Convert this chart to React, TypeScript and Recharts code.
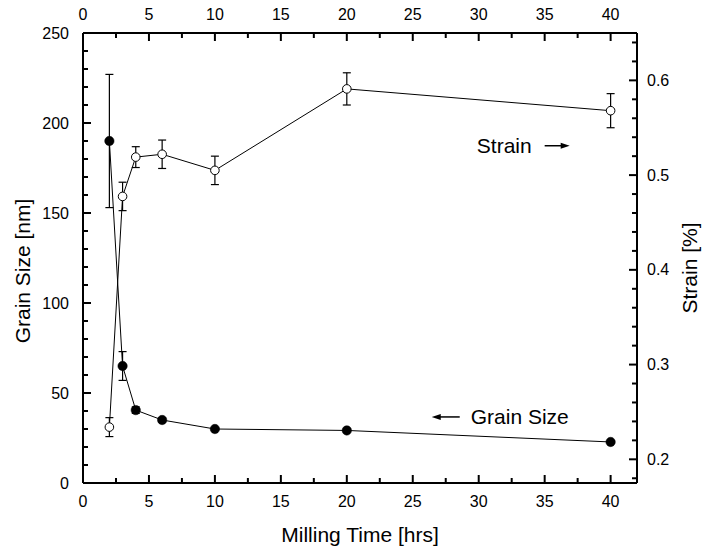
import { ComposedChart, Line, XAxis, YAxis, ErrorBar, ReferenceDot } from "recharts"

// milling time [hrs]
const time = [2, 3, 4, 6, 10, 20, 40]
// grain size [nm] (filled dots, left axis)
const grainSize = [190, 65, 40.5, 35, 30, 29.2, 22.8]
const grainErr = [37, 8, 1.8, 1.2, 0.5, 0.5, 0.5]
// strain [%] (open dots, right axis)
const strain = [0.234, 0.4775, 0.519, 0.522, 0.505, 0.591, 0.568]
const strainErr = [0.01, 0.015, 0.011, 0.015, 0.015, 0.017, 0.018]

const timeTicks = [0, 2.5, 5, 7.5, 10, 12.5, 15, 17.5, 20, 22.5, 25, 27.5, 30, 32.5, 35, 37.5, 40]
const grainTicks = [0, 10, 20, 30, 40, 50, 60, 70, 80, 90, 100, 110, 120, 130, 140, 150, 160, 170, 180, 190, 200, 210, 220, 230, 240, 250]
const strainTicks = [0.18, 0.2, 0.22, 0.24, 0.26, 0.28, 0.3, 0.32, 0.34, 0.36, 0.38, 0.4, 0.42, 0.44, 0.46, 0.48, 0.5, 0.52, 0.54, 0.56, 0.58, 0.6, 0.62, 0.64]

// annotation anchors (data coords)
const strainNote = { x: 35, y: 0.531 }
const grainNote = { x: 28.56, y: 36.7 }

const data = time.map((t, i) => ({
  time: t,
  grain: grainSize[i],
  grainErr: grainErr[i],
  strain: strain[i],
  strainErr: strainErr[i],
}))

const FONT = "'Liberation Sans', Arial, sans-serif"
const MAJOR = 8
const MINOR = 5
const TICK_W = 2

const isTimeMajor = (v: number) => v % 5 === 0
const isGrainMajor = (v: number) => v % 50 === 0
const isStrainMajor = (v: number) => Math.abs(v * 10 - Math.round(v * 10)) < 1e-6

const BottomTick = ({ x, y, payload }: any) => {
  const major = isTimeMajor(payload.value)
  return (
    <g>
      <path d={`M${x},${y}V${y - (major ? MAJOR : MINOR)}`} stroke="#000" strokeWidth={TICK_W} fill="none" />
      {major && (
        <text x={x} y={y + 24} textAnchor="middle" fontSize={16} fontFamily={FONT} fill="#000">
          {payload.value}
        </text>
      )}
    </g>
  )
}

const TopTick = ({ x, y, payload }: any) => {
  const major = isTimeMajor(payload.value)
  return (
    <g>
      <path d={`M${x},${y}V${y + (major ? MAJOR : MINOR)}`} stroke="#000" strokeWidth={TICK_W} fill="none" />
      {major && (
        <text x={x} y={y - 13.5} textAnchor="middle" fontSize={16} fontFamily={FONT} fill="#000">
          {payload.value}
        </text>
      )}
    </g>
  )
}

const LeftTick = ({ x, y, payload }: any) => {
  const major = isGrainMajor(payload.value)
  return (
    <g>
      <path d={`M${x},${y}H${x + (major ? MAJOR : MINOR)}`} stroke="#000" strokeWidth={TICK_W} fill="none" />
      {major && (
        <text x={x - 14} y={y + 5.5} textAnchor="end" fontSize={16} fontFamily={FONT} fill="#000">
          {payload.value}
        </text>
      )}
    </g>
  )
}

const RightTick = ({ x, y, payload }: any) => {
  const major = isStrainMajor(payload.value)
  return (
    <g>
      <path d={`M${x},${y}H${x - (major ? MAJOR : MINOR)}`} stroke="#000" strokeWidth={TICK_W} fill="none" />
      {major && (
        <text x={x + 10} y={y + 5.5} textAnchor="start" fontSize={16} fontFamily={FONT} fill="#000">
          {payload.value.toFixed(1)}
        </text>
      )}
    </g>
  )
}

const StrainNote = ({ cx, cy }: any) => (
  <g>
    <text x={cx - 13} y={cy + 7.5} textAnchor="end" fontSize={21} fontFamily={FONT} fill="#000">
      Strain
    </text>
    <line x1={cx} x2={cx + 17} y1={cy} y2={cy} stroke="#000" strokeWidth={1.5} />
    <polygon points={`${cx + 25},${cy} ${cx + 16},${cy - 3} ${cx + 16},${cy + 3}`} fill="#000" />
  </g>
)

const GrainNote = ({ cx, cy }: any) => (
  <g>
    <line x1={cx} x2={cx - 20} y1={cy} y2={cy} stroke="#000" strokeWidth={1.5} />
    <polygon points={`${cx - 28},${cy} ${cx - 19},${cy - 3} ${cx - 19},${cy + 3}`} fill="#000" />
    <text x={cx + 11} y={cy + 7.5} textAnchor="start" fontSize={21} fontFamily={FONT} fill="#000">
      Grain Size
    </text>
  </g>
)

const BottomTitle = ({ viewBox }: any) => {
  const vb = viewBox || { x: 83, y: 483, width: 554, height: 69 }
  return (
    <text x={vb.x + vb.width / 2} y={vb.y + 59} textAnchor="middle" fontSize={21} fontFamily={FONT} fill="#000">
      Milling Time [hrs]
    </text>
  )
}

const LeftTitle = ({ viewBox }: any) => {
  const vb = viewBox || { x: 0, y: 33, width: 83, height: 450 }
  const tx = vb.x + 30
  const ty = vb.y + vb.height / 2 + 13
  return (
    <text x={tx} y={ty} transform={`rotate(-90, ${tx}, ${ty})`} textAnchor="middle" fontSize={21} fontFamily={FONT} fill="#000">
      Grain Size [nm]
    </text>
  )
}

const RightTitle = ({ viewBox }: any) => {
  const vb = viewBox || { x: 637, y: 33, width: 65, height: 450 }
  const tx = vb.x + 60
  const ty = vb.y + vb.height / 2 + 10
  return (
    <text x={tx} y={ty} transform={`rotate(-90, ${tx}, ${ty})`} textAnchor="middle" fontSize={21} fontFamily={FONT} fill="#000">
      Strain [%]
    </text>
  )
}

export default function App() {
  return (
    <div style={{ position: "absolute", left: 0, top: 0, background: "#fff" }}>
      <ComposedChart width={702} height={552} data={data} margin={{ top: 0, right: 0, bottom: 0, left: 0 }}>
        <XAxis
          xAxisId="bottom"
          dataKey="time"
          type="number"
          domain={[0, 42]}
          allowDataOverflow
          ticks={timeTicks}
          interval={0}
          height={69}
          tickSize={0}
          tickMargin={0}
          tickLine={false}
          tick={(p: any) => <BottomTick {...p} />}
          axisLine={{ stroke: "#000", strokeWidth: 2 }}
          label={{ content: <BottomTitle /> }}
        />
        <XAxis
          xAxisId="top"
          orientation="top"
          type="number"
          dataKey="time"
          domain={[0, 42]}
          allowDataOverflow
          ticks={timeTicks}
          interval={0}
          height={33}
          tickSize={0}
          tickMargin={0}
          tickLine={false}
          tick={(p: any) => <TopTick {...p} />}
          axisLine={{ stroke: "#000", strokeWidth: 2 }}
        />
        <YAxis
          yAxisId="left"
          type="number"
          domain={[0, 250]}
          allowDataOverflow
          ticks={grainTicks}
          interval={0}
          width={83}
          tickSize={0}
          tickMargin={0}
          tickLine={false}
          tick={(p: any) => <LeftTick {...p} />}
          axisLine={{ stroke: "#000", strokeWidth: 2 }}
          label={{ content: <LeftTitle /> }}
        />
        <YAxis
          yAxisId="right"
          orientation="right"
          type="number"
          domain={[0.175, 0.65]}
          allowDataOverflow
          ticks={strainTicks}
          interval={0}
          width={65}
          tickSize={0}
          tickMargin={0}
          tickLine={false}
          tick={(p: any) => <RightTick {...p} />}
          axisLine={{ stroke: "#000", strokeWidth: 2 }}
          label={{ content: <RightTitle /> }}
        />
        <Line
          xAxisId="bottom"
          yAxisId="right"
          dataKey="strain"
          type="linear"
          stroke="#000"
          strokeWidth={1}
          isAnimationActive={false}
          dot={{ r: 4.3, fill: "#fff", stroke: "#000", strokeWidth: 1 }}
          activeDot={false}
        >
          <ErrorBar dataKey="strainErr" direction="y" width={4} stroke="#000" strokeWidth={1.2} />
        </Line>
        <Line
          xAxisId="bottom"
          yAxisId="left"
          dataKey="grain"
          type="linear"
          stroke="#000"
          strokeWidth={1}
          isAnimationActive={false}
          dot={{ r: 4.7, fill: "#000", stroke: "#000", strokeWidth: 0.5 }}
          activeDot={false}
        >
          <ErrorBar dataKey="grainErr" direction="y" width={4} stroke="#000" strokeWidth={1.2} />
        </Line>
        <ReferenceDot xAxisId="bottom" yAxisId="right" x={strainNote.x} y={strainNote.y} r={0} shape={(p: any) => <StrainNote {...p} />} />
        <ReferenceDot xAxisId="bottom" yAxisId="left" x={grainNote.x} y={grainNote.y} r={0} shape={(p: any) => <GrainNote {...p} />} />
      </ComposedChart>
    </div>
  )
}
